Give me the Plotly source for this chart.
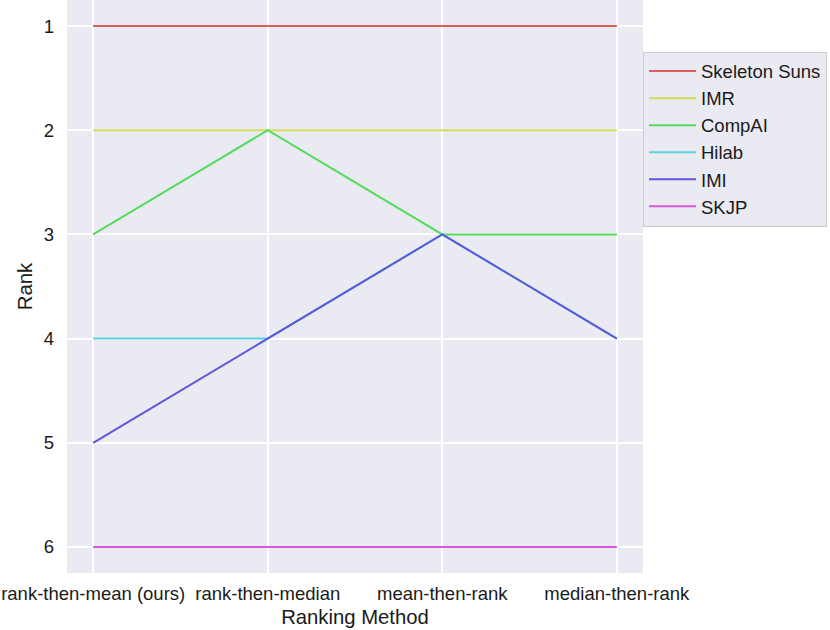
import plotly.graph_objects as go

methods = ["rank-then-mean (ours)", "rank-then-median", "mean-then-rank", "median-then-rank"]
teams = ["Skeleton Suns", "IMR", "CompAI", "Hilab", "IMI", "SKJP"]
skeleton_suns = [1, 1, 1, 1]
imr = [2, 2, 2, 2]
compai = [3, 2, 3, 3]
hilab = [4, 4, 3, 4]
imi = [5, 4, 3, 4]
skjp = [6, 6, 6, 6]
colors = ["#db5f57", "#d3db57", "#57db5f", "#57d3db", "#5f57db", "#db57d3"]

ranks = [skeleton_suns, imr, compai, hilab, imi, skjp]

fig = go.Figure()
xpos = list(range(len(methods)))
for name, vals, col in zip(teams, ranks, colors):
    fig.add_trace(go.Scatter(x=xpos, y=vals, name=name, mode="lines",
                             line=dict(color=col, width=2)))

font = "Liberation Sans, Arial, sans-serif"
fig.update_layout(
    width=830, height=630,
    margin=dict(l=67, r=187, t=0, b=57, autoexpand=False),
    paper_bgcolor="white", plot_bgcolor="#eaeaf2",
    font=dict(family=font, size=18.5, color="#1a1a1a"),
    legend=dict(x=1.0, y=0.91, xanchor="left", yanchor="top",
                bgcolor="#eaeaf2", bordercolor="#cccccc", borderwidth=1,
                font=dict(size=18.5), tracegroupgap=0, itemwidth=47),
)
fig.update_xaxes(
    range=[-0.15, 3.15], tickmode="array", tickvals=xpos, ticktext=methods,
    showgrid=True, gridcolor="white", gridwidth=1.5, zeroline=False,
    ticks="", tickfont=dict(size=18.5), ticklabelstandoff=7, automargin=False,
    title=dict(text="Ranking Method", font=dict(size=20.3), standoff=7),
)
fig.update_yaxes(
    range=[6.25, 0.75], tickmode="array", tickvals=[1, 2, 3, 4, 5, 6],
    showgrid=True, gridcolor="white", gridwidth=1.5, zeroline=False,
    ticks="", tickfont=dict(size=18.5), ticklabelstandoff=12, automargin=False,
    title=dict(text="Rank", font=dict(size=20.3), standoff=5),
)
fig.write_html("out.html", config={"displayModeBar": False},
               post_script="document.body.style.margin='0';")
